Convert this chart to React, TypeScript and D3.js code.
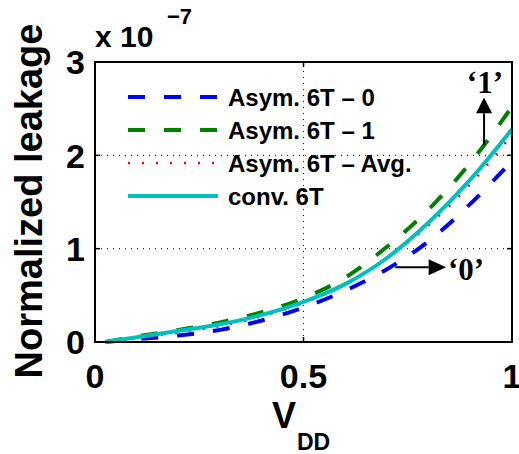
import React from 'react';
import * as d3 from 'd3';

// supply voltage samples (normalized)
const vdd = [0.025, 0.1, 0.2, 0.3, 0.4, 0.5, 0.6, 0.7, 0.8, 0.9, 1.0];
// normalized leakage, units of 1e-7
const asym0 = [0.0, 0.03, 0.07, 0.13, 0.23, 0.37, 0.55, 0.78, 1.08, 1.48, 1.94];
const asym1 = [0.0, 0.06, 0.13, 0.21, 0.32, 0.47, 0.69, 1.02, 1.42, 1.92, 2.52];
const asymAvg = [0.0, 0.045, 0.1, 0.17, 0.275, 0.42, 0.62, 0.9, 1.25, 1.69, 2.22];
const conv6T = [0.0, 0.05, 0.12, 0.19, 0.29, 0.43, 0.62, 0.9, 1.28, 1.74, 2.28];

const xTicks = [0, 0.5, 1];
const yTicks = [0, 1, 2, 3];
const xTickLabels = ['0', '0.5', '1'];
const yTickLabels = ['0', '1', '2', '3'];

const seriesNames = ['Asym. 6T \u2013 0', 'Asym. 6T \u2013 1', 'Asym. 6T \u2013 Avg.', 'conv. 6T'];
const seriesValues = [asym0, asym1, asymAvg, conv6T];

const W = 519;
const H = 454;
const margin = { top: 62, right: 7, bottom: 112, left: 95 };
const sansFont = '"Liberation Sans", Arial, Helvetica, sans-serif';
const serifFont = '"Liberation Serif", "Times New Roman", serif';

const styles = [
  { color: '#0000ff', width: 4, dash: '17,19' },
  { color: '#008000', width: 4, dash: '17,19' },
  { color: '#ff0000', width: 2.4, dash: '2,12' },
  { color: '#00bfbf', width: 4, dash: null },
];

const App = () => {
  const x = d3.scaleLinear().domain([0, 1]).range([margin.left, W - margin.right]);
  const y = d3.scaleLinear().domain([0, 3]).range([H - margin.bottom, margin.top]);
  const [x0, x1] = x.range();
  const [y0, y1] = y.range();

  const line = d3.line<number>()
    .x((_, i) => x(vdd[i]))
    .y(d => y(d))
    .curve(d3.curveMonotoneX);

  const tickLen = 5;

  // legend layout
  const legX = 128;
  const legLine = 90;
  const legY0 = 97;
  const legStep = 33;

  return (
    <svg width={W} height={H} style={{ position: 'absolute', left: 0, top: 0, background: '#fff' }}>
      <rect x={0} y={0} width={W} height={H} fill="#fff" />

      {/* dotted grid */}
      <g stroke="#000" strokeWidth={1} strokeDasharray="1,5">
        {yTicks.slice(1, -1).map(t => (
          <line key={'gy' + t} x1={x0} x2={x1} y1={y(t)} y2={y(t)} />
        ))}
        {xTicks.slice(1, -1).map(t => (
          <line key={'gx' + t} x1={x(t)} x2={x(t)} y1={y0} y2={y1} />
        ))}
      </g>

      {/* series */}
      {seriesValues.map((vals, i) => (
        <path
          key={seriesNames[i]}
          d={line(vals) || ''}
          fill="none"
          stroke={styles[i].color}
          strokeWidth={styles[i].width}
          strokeDasharray={styles[i].dash || undefined}
        />
      ))}

      {/* axes box and inner ticks */}
      <rect x={x0} y={y1} width={x1 - x0} height={y0 - y1} fill="none" stroke="#000" strokeWidth={2} />
      <g stroke="#000" strokeWidth={1.5}>
        {yTicks.map(t => (
          <g key={'ty' + t}>
            <line x1={x0} x2={x0 + tickLen} y1={y(t)} y2={y(t)} />
            <line x1={x1} x2={x1 - tickLen} y1={y(t)} y2={y(t)} />
          </g>
        ))}
        {xTicks.map(t => (
          <g key={'tx' + t}>
            <line x1={x(t)} x2={x(t)} y1={y0} y2={y0 - tickLen} />
            <line x1={x(t)} x2={x(t)} y1={y1} y2={y1 + tickLen} />
          </g>
        ))}
      </g>

      {/* tick labels */}
      <g fontFamily={sansFont} fontWeight="bold" fontSize={34} fill="#000">
        {xTicks.map((t, i) => (
          <text key={'lx' + t} x={x(t)} y={388} textAnchor="middle">{xTickLabels[i]}</text>
        ))}
        {yTicks.map((t, i) => (
          <text key={'ly' + t} x={85} y={y(t)} dy="0.36em" textAnchor="end">{yTickLabels[i]}</text>
        ))}
      </g>

      {/* exponent */}
      <text x={95} y={47} fontFamily={sansFont} fontWeight="bold" fontSize={30} fill="#000">x 10</text>
      <text x={167} y={24} fontFamily={sansFont} fontWeight="bold" fontSize={22} fill="#000">{'\u22127'}</text>

      {/* axis labels */}
      <text
        transform="translate(42, 201) rotate(-90)"
        textAnchor="middle"
        fontFamily={sansFont}
        fontWeight="bold"
        fontSize={38}
        fill="#000"
      >
        Normalized leakage
      </text>
      <text x={272} y={428} fontFamily={sansFont} fontWeight="bold" fontSize={36} fill="#000">V</text>
      <text x={297} y={450} fontFamily={sansFont} fontWeight="bold" fontSize={23} fill="#000">DD</text>

      {/* legend */}
      {seriesNames.map((name, i) => {
        const ly = legY0 + i * legStep;
        return (
          <g key={'leg' + i}>
            <line
              x1={legX}
              x2={legX + legLine}
              y1={ly}
              y2={ly}
              stroke={styles[i].color}
              strokeWidth={styles[i].width}
              strokeDasharray={styles[i].dash || undefined}
            />
            <text
              x={228}
              y={ly}
              dy="0.36em"
              fontFamily={sansFont}
              fontWeight="bold"
              fontSize={24}
              fill="#000"
            >
              {name}
            </text>
          </g>
        );
      })}

      {/* annotations */}
      <g stroke="#000" strokeWidth={2}>
        <line x1={x(0.933)} x2={x(0.933)} y1={y(2.11)} y2={y(2.45)} />
        <line x1={x(0.72)} x2={x(0.8)} y1={y(0.8)} y2={y(0.8)} />
      </g>
      <polygon
        points={`${x(0.933)},${y(2.62)} ${x(0.933) - 8},${y(2.45)} ${x(0.933) + 8},${y(2.45)}`}
        fill="#000"
      />
      <polygon
        points={`${x(0.842)},${y(0.8)} ${x(0.8)},${y(0.8) - 8} ${x(0.8)},${y(0.8) + 8}`}
        fill="#000"
      />
      <text x={x(0.935)} y={93} textAnchor="middle" fontFamily={serifFont} fontWeight="bold" fontSize={31} fill="#000">
        {'\u20181\u2019'}
      </text>
      <text x={448} y={280} fontFamily={serifFont} fontWeight="bold" fontSize={31} fill="#000">
        {'\u20180\u2019'}
      </text>
    </svg>
  );
};

export default App;
